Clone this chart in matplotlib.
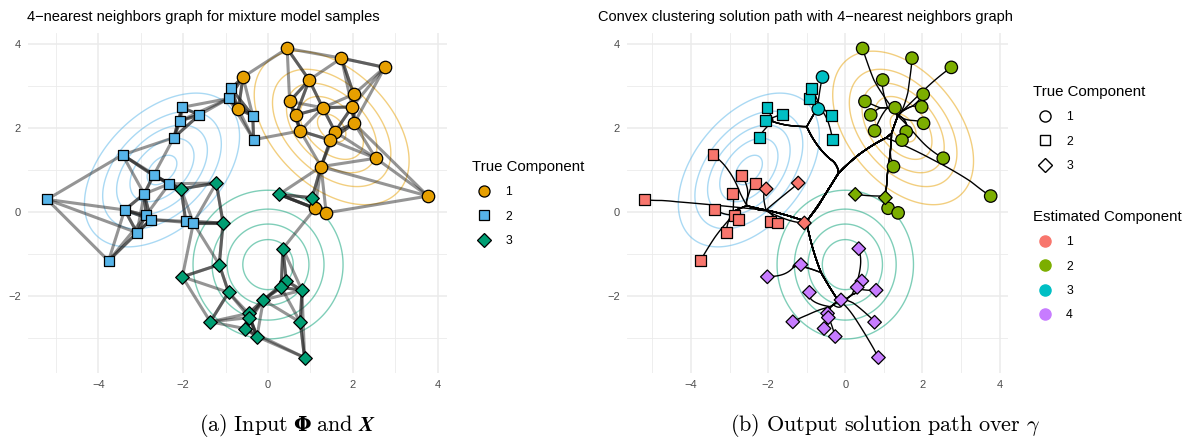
import numpy as np
import matplotlib
matplotlib.use("Agg")
import matplotlib.pyplot as plt
from matplotlib.lines import Line2D

plt.rcParams['font.family'] = ['Liberation Sans', 'DejaVu Sans']
plt.rcParams['mathtext.fontset'] = 'cm'

# sample coordinates, grouped by true component
comp1_x = [0.45, -0.59, -0.70, 1.73, 2.75, 0.97, 0.51, 0.66, 1.29, 2.02,
           1.98, 2.03, 0.76, 1.58, 1.47, 2.54, 1.25, 3.77, 1.11, 1.37]
comp1_y = [3.89, 3.21, 2.45, 3.66, 3.44, 3.14, 2.63, 2.31, 2.48, 2.80,
           2.50, 2.11, 1.93, 1.91, 1.71, 1.28, 1.08, 0.38, 0.09, -0.02]
comp2_x = [-5.21, -3.43, -2.70, -2.33, -2.92, -3.38, -2.88, -2.76, -1.94, -1.76,
           -2.22, -2.07, -2.03, -1.62, -0.93, -0.87, -0.36, -0.34, -3.09, -3.76]
comp2_y = [0.30, 1.36, 0.87, 0.67, 0.43, 0.05, -0.08, -0.18, -0.22, -0.26,
           1.77, 2.17, 2.49, 2.31, 2.70, 2.94, 2.29, 1.72, -0.49, -1.16]
comp3_x = [-2.05, -1.22, -1.06, 0.26, 1.04, 0.35, -1.15, -2.02, 0.43, 0.31,
           0.80, -0.93, -0.11, -0.46, -0.44, -1.36, 0.76, -0.55, -0.26, 0.86]
comp3_y = [0.55, 0.69, -0.26, 0.42, 0.34, -0.87, -1.25, -1.54, -1.64, -1.79,
           -1.86, -1.91, -2.09, -2.41, -2.51, -2.61, -2.62, -2.77, -2.96, -3.46]

# estimated component of each sample (right panel)
est1 = [2, 3, 3, 2, 2, 2, 2, 2, 2, 2, 2, 2, 2, 2, 2, 2, 2, 2, 2, 2]
est2 = [1, 1, 1, 1, 1, 1, 1, 1, 1, 1, 3, 3, 3, 3, 3, 3, 3, 3, 1, 1]
est3 = [1, 1, 1, 2, 2, 4, 4, 4, 4, 4, 4, 4, 4, 4, 4, 4, 4, 4, 4, 4]

# mixture components used for the density contours
comp_means = [(1.5, 2.0), (-2.5, 1.0), (0.0, -1.25)]
comp_corr = [-0.43, 0.44, 0.0]
contour_levels = [1 / 30, 2 / 30, 3 / 30, 4 / 30, 5 / 30]

k_nn = 4
phi = 0.5

true_cols = ['#E69F00', '#56B4E9', '#009E73']
est_cols = ['#F8766D', '#7CAE00', '#00BFC4', '#C77CFF']
shapes = ['o', 's', 'D']
sizes = [80, 62, 48]

X = np.column_stack([comp1_x + comp2_x + comp3_x, comp1_y + comp2_y + comp3_y])
true_lab = np.repeat([0, 1, 2], [len(comp1_x), len(comp2_x), len(comp3_x)])
est_lab = np.array(est1 + est2 + est3) - 1
n = len(X)

# k nearest neighbours
d2 = ((X[:, None, :] - X[None, :, :]) ** 2).sum(-1)
nbrs = np.argsort(d2, axis=1)[:, 1:k_nn + 1]
pairs = sorted({(min(i, j), max(i, j)) for i in range(n) for j in nbrs[i]})
pairs = np.array(pairs)
w = np.exp(-phi * d2[pairs[:, 0], pairs[:, 1]])


# convex clustering path via AMA, warm started over gamma
def cvx_path(P, pairs, w, gammas, n_iter=400):
    m = len(pairs)
    D = np.zeros((m, len(P)))
    D[np.arange(m), pairs[:, 0]] = 1.0
    D[np.arange(m), pairs[:, 1]] = -1.0
    nu = 1.0 / np.linalg.eigvalsh(D.T @ D).max()
    lam = np.zeros((m, 2))
    out = [P.copy()]
    for g in gammas:
        for _ in range(n_iter):
            U = P + D.T @ lam
            Z = lam - nu * (D @ U)
            nrm = np.maximum(np.linalg.norm(Z, axis=1), 1e-12)
            lam = Z * np.minimum(1.0, g * w / nrm)[:, None]
        out.append(P + D.T @ lam)
    out.append(np.tile(P.mean(0), (len(P), 1)))
    return np.array(out)


path = cvx_path(X, pairs, w, np.geomspace(0.01, 30, 90))


def expand(v):
    lo, hi = min(v), max(v)
    return lo - 0.05 * (hi - lo), hi + 0.05 * (hi - lo)


xlim = expand(X[:, 0])
ylim = expand(X[:, 1])
gx, gy = np.meshgrid(np.linspace(*xlim, 300), np.linspace(*ylim, 300))


def density(mu, rho):
    dx, dy = gx - mu[0], gy - mu[1]
    q = (dx ** 2 - 2 * rho * dx * dy + dy ** 2) / (1 - rho ** 2)
    return np.exp(-q / 2) / (2 * np.pi * np.sqrt(1 - rho ** 2))


def base_axes(ax):
    ax.set_xlim(xlim)
    ax.set_ylim(ylim)
    ax.set_xticks([-4, -2, 0, 2, 4])
    ax.set_yticks([-2, 0, 2, 4])
    ax.set_xticks([-5, -3, -1, 1, 3], minor=True)
    ax.set_yticks([-3, -1, 1, 3], minor=True)
    ax.grid(which='major', color='#EBEBEB', lw=1.1)
    ax.grid(which='minor', color='#EBEBEB', lw=0.6)
    ax.set_axisbelow(True)
    for s in ax.spines.values():
        s.set_visible(False)
    ax.tick_params(which='both', length=0, labelsize=8, labelcolor='#4D4D4D', pad=5)
    for c in range(3):
        ax.contour(gx, gy, density(comp_means[c], comp_corr[c]), levels=contour_levels,
                   colors=true_cols[c], alpha=0.5, linewidths=1.0, zorder=1)


fig = plt.figure(figsize=(11.85, 4.41), dpi=100)
ax1 = fig.add_axes([28 / 1185, 1 - 373 / 441, 419 / 1185, 340 / 441])
ax2 = fig.add_axes([627 / 1185, 1 - 373 / 441, 381 / 1185, 340 / 441])

# left: kNN graph
base_axes(ax1)
for i in range(n):
    for j in nbrs[i]:
        ax1.plot([X[i, 0], X[j, 0]], [X[i, 1], X[j, 1]], color='#222222',
                 alpha=0.48, lw=2.2, solid_capstyle='round', zorder=2)
for c in range(3):
    m = true_lab == c
    ax1.scatter(X[m, 0], X[m, 1], marker=shapes[c], s=sizes[c], c=true_cols[c],
                edgecolors='black', linewidths=0.9, zorder=3)

# right: solution path
base_axes(ax2)
for i in range(n):
    ax2.plot(path[:, i, 0], path[:, i, 1], color='black', lw=1.0, zorder=2)
for c in range(3):
    m = true_lab == c
    ax2.scatter(X[m, 0], X[m, 1], marker=shapes[c], s=sizes[c],
                c=[est_cols[e] for e in est_lab[m]],
                edgecolors='black', linewidths=0.9, zorder=3)

fig.text(27 / 1185, 1 - 21 / 441, '4\u2212nearest neighbors graph for mixture model samples',
         fontsize=10.5, va='baseline')
fig.text(598 / 1185, 1 - 21 / 441,
         'Convex clustering solution path with 4\u2212nearest neighbors graph',
         fontsize=10.5, va='baseline')

# legends
leg_kw = dict(loc='upper left', frameon=False, fontsize=8.8, title_fontsize=10.8,
              alignment='left', labelspacing=1.0, handletextpad=0.7, borderpad=0)
h1 = [Line2D([], [], ls='', marker=shapes[c], mfc=true_cols[c], mec='black',
             ms=[8, 7, 7][c], mew=0.9) for c in range(3)]
fig.legend(h1, ['1', '2', '3'], title='True Component',
           bbox_to_anchor=(466 / 1185, 1 - 154 / 441), **leg_kw)

h2 = [Line2D([], [], ls='', marker=shapes[c], mfc='white', mec='black',
             ms=[8, 7, 7][c], mew=1.0) for c in range(3)]
fig.legend(h2, ['1', '2', '3'], title='True Component',
           bbox_to_anchor=(1027 / 1185, 1 - 79 / 441), **leg_kw)

h3 = [Line2D([], [], ls='', marker='o', mfc=est_cols[c], mec=est_cols[c], ms=8)
      for c in range(4)]
fig.legend(h3, ['1', '2', '3', '4'], title='Estimated Component',
           bbox_to_anchor=(1027 / 1185, 1 - 204 / 441), **leg_kw)


# captions: pieces laid out side by side so the Phi can be bold
def caption(parts, cx, base_px):
    fig.canvas.draw()
    r = fig.canvas.get_renderer()
    texts, widths = [], []
    for s, kw in parts:
        t = fig.text(0, 1 - base_px / 441, s, va='baseline', **kw)
        texts.append(t)
        widths.append(t.get_window_extent(r).width)
    gap = 5
    x = cx - (sum(widths) + gap * (len(parts) - 1)) / 2
    for t, wd in zip(texts, widths):
        t.set_x(x / 1185)
        x += wd + gap


caption([(r'$\mathrm{(a)\ Input}$', dict(fontsize=16)),
         ('\u03a6', dict(fontsize=14.5, family='DejaVu Serif', weight='bold')),
         (r'$\mathrm{and}\ \mathbfit{X}$', dict(fontsize=16))], 287, 431)
fig.text(885 / 1185, 1 - 431 / 441,
         r'$\mathrm{(b)\ Output\ solution\ path\ over\ }\gamma$',
         fontsize=16, ha='center', va='baseline')

fig.savefig('out.png', dpi=100)
